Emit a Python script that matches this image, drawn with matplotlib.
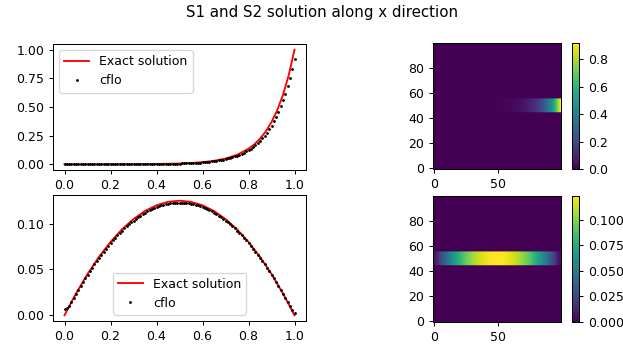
import numpy as np
import matplotlib
matplotlib.use("Agg")
from matplotlib import pyplot as plt

# exact solution, S1 (boundary layer near x=1)
x_ex1 = [0, 0.1, 0.2, 0.3, 0.4, 0.5, 0.55, 0.6, 0.65, 0.7, 0.75, 0.8, 0.825,
         0.85, 0.875, 0.9, 0.925, 0.95, 0.975, 1.0]
y_ex1 = [0, 0.0001, 0.0003, 0.0009, 0.0024, 0.0067, 0.0111, 0.0183, 0.0302,
         0.0498, 0.0821, 0.1353, 0.1738, 0.2231, 0.2865, 0.3679, 0.4724,
         0.6065, 0.7788, 1.0]

# exact solution, S2 (parabola)
x_ex2 = [0, 0.05, 0.1, 0.15, 0.2, 0.25, 0.3, 0.35, 0.4, 0.45, 0.5, 0.55, 0.6,
         0.65, 0.7, 0.75, 0.8, 0.85, 0.9, 0.95, 1.0]
y_ex2 = [0, 0.0238, 0.045, 0.0638, 0.08, 0.0938, 0.105, 0.1138, 0.12, 0.1238,
         0.125, 0.1238, 0.12, 0.1138, 0.105, 0.0938, 0.08, 0.0638, 0.045,
         0.0238, 0]

# cflo results, 101 cells on [0, 1]
x_cflo = np.linspace(0, 1, 101)
s1_cflo = [0, 0, 0, 0, 0, 0, 0, 0, 0, 0.0001,
           0.0001, 0.0001, 0.0001, 0.0001, 0.0001, 0.0001, 0.0002, 0.0002, 0.0002, 0.0003,
           0.0003, 0.0003, 0.0003, 0.0004, 0.0004, 0.0005, 0.0005, 0.0006, 0.0006, 0.0007,
           0.0008, 0.0009, 0.0010, 0.0011, 0.0012, 0.0013, 0.0015, 0.0016, 0.0018, 0.0020,
           0.0022, 0.0025, 0.0027, 0.0030, 0.0034, 0.0037, 0.0041, 0.0046, 0.0050, 0.0056,
           0.0062, 0.0068, 0.0075, 0.0083, 0.0092, 0.0102, 0.0113, 0.0124, 0.0138, 0.0152,
           0.0168, 0.0186, 0.0205, 0.0227, 0.0251, 0.0277, 0.0307, 0.0339, 0.0375, 0.0414,
           0.0458, 0.0506, 0.0559, 0.0618, 0.0683, 0.0755, 0.0834, 0.0922, 0.1019, 0.1126,
           0.1245, 0.1376, 0.1520, 0.1680, 0.1857, 0.2053, 0.2268, 0.2507, 0.2771, 0.3062,
           0.3384, 0.3740, 0.4134, 0.4568, 0.5049, 0.5580, 0.6167, 0.6816, 0.7532, 0.8325,
           0.92]
s2_cflo = [0.007, 0.0075, 0.0105, 0.0143, 0.0189, 0.0234, 0.0278, 0.0320, 0.0362, 0.0403,
           0.0443, 0.0482, 0.0520, 0.0557, 0.0592, 0.0627, 0.0661, 0.0694, 0.0726, 0.0757,
           0.0787, 0.0816, 0.0844, 0.0871, 0.0897, 0.0923, 0.0947, 0.0970, 0.0992, 0.1013,
           0.1033, 0.1052, 0.1071, 0.1088, 0.1104, 0.1119, 0.1134, 0.1147, 0.1159, 0.1171,
           0.1181, 0.1190, 0.1199, 0.1206, 0.1212, 0.1218, 0.1222, 0.1226, 0.1228, 0.1230,
           0.1230, 0.1230, 0.1228, 0.1226, 0.1222, 0.1218, 0.1212, 0.1206, 0.1199, 0.1190,
           0.1181, 0.1171, 0.1159, 0.1147, 0.1134, 0.1119, 0.1104, 0.1088, 0.1071, 0.1052,
           0.1033, 0.1013, 0.0992, 0.0970, 0.0947, 0.0923, 0.0897, 0.0871, 0.0844, 0.0816,
           0.0787, 0.0757, 0.0726, 0.0694, 0.0661, 0.0627, 0.0592, 0.0557, 0.0520, 0.0482,
           0.0443, 0.0403, 0.0362, 0.0320, 0.0278, 0.0234, 0.0189, 0.0143, 0.0096, 0.0060,
           0.003]

# the 2D fields: the profile lives in a horizontal band of the 100x100 grid
band = (45, 56)

def field(profile):
    img = np.zeros((100, len(profile)))
    img[band[0]:band[1], :] = profile
    return img

fig = plt.figure(figsize=(623 / 90, 344 / 90), dpi=90)
fig.text(0.517, 0.965, "S1 and S2 solution along x direction",
         ha="center", va="center", fontsize=12)

ax1 = fig.add_axes([53 / 623, 1 - 170 / 344, 253 / 623, 126 / 344])
ax1.plot(x_ex1, y_ex1, color="r", label="Exact solution")
ax1.plot(x_cflo, s1_cflo, "k.", ms=2.5, label="cflo")
ax1.legend(loc="upper left")

ax2 = fig.add_axes([53 / 623, 1 - 321 / 344, 253 / 623, 126 / 344])
ax2.plot(x_ex2, y_ex2, color="r", label="Exact solution")
ax2.plot(x_cflo, s2_cflo, "k.", ms=2.5, label="cflo")
ax2.legend(loc="lower center")

for top, prof in [(169, s1_cflo), (322, s2_cflo)]:
    ax = fig.add_axes([433 / 623, 1 - top / 344, 128 / 623, 126 / 344])
    im = ax.imshow(field(prof), origin="lower", aspect="auto",
                   extent=(-0.5, 99.5, -0.5, 99.5), cmap="viridis")
    ax.set_xticks([0, 50])
    ax.set_yticks([0, 20, 40, 60, 80])
    cax = fig.add_axes([572 / 623, 1 - top / 344, 7 / 623, 126 / 344])
    fig.colorbar(im, cax=cax)

plt.savefig("out.png", dpi=90)
